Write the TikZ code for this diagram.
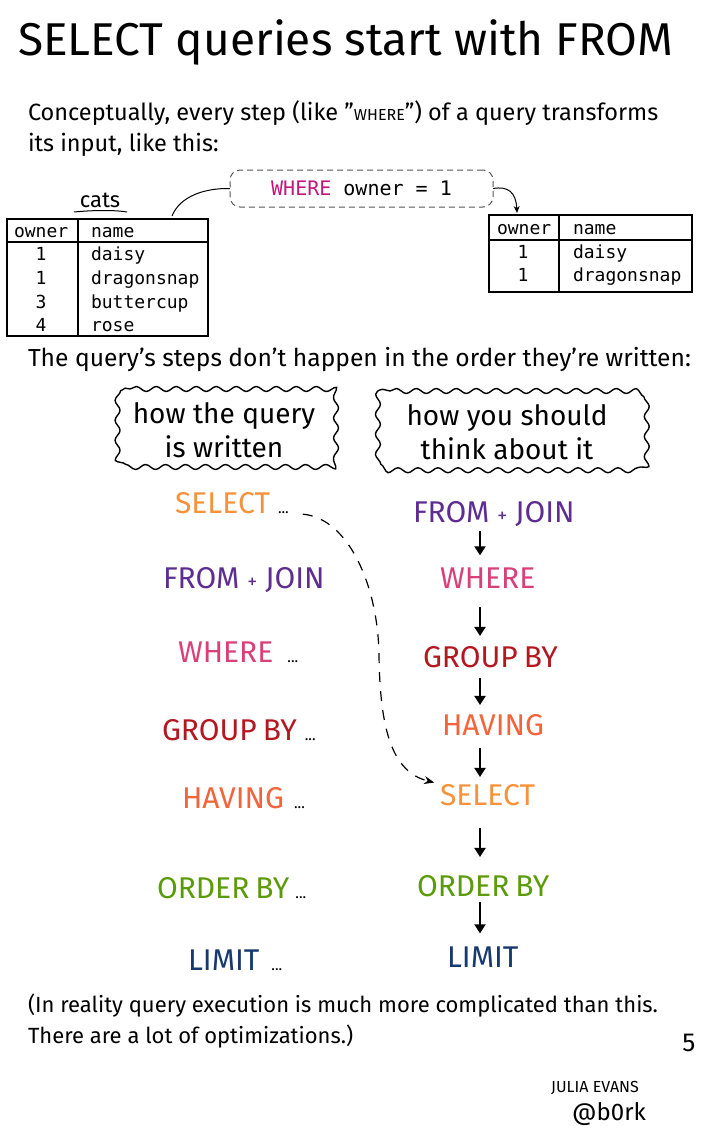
\documentclass[tikz,border=0pt]{standalone}
\usepackage{fontspec}
\setmainfont{Fira Sans}
\newfontfamily\monof{DejaVu Sans Mono}
\usetikzlibrary{arrows.meta,decorations.pathmorphing}
\definecolor{cSel}{HTML}{F7923A}
\definecolor{cFrom}{HTML}{5E2D91}
\definecolor{cWhere}{HTML}{D8407A}
\definecolor{cGroup}{HTML}{B3171F}
\definecolor{cHave}{HTML}{F2643A}
\definecolor{cOrder}{HTML}{5B9B0A}
\definecolor{cLimit}{HTML}{17396E}
\definecolor{cCode}{HTML}{C2187E}
\definecolor{cDash}{HTML}{555555}
\newcommand{\smalldots}{{\color{black}\fontsize{15}{15}\selectfont...}}
\newcommand{\sq}{\char"0022\relax}
% wavy outline of a speech cloud: x1,y1,x2,y2,corner
\newcommand{\cloudoutline}[5]{%
  \draw[cloudline] (#1+#5,#2) -- (#3-#5,#2) .. controls (#3,#2) .. (#3,#2+#5)
    -- (#3,#4-#5) .. controls (#3,#4) .. (#3-#5,#4)
    -- (#1+#5,#4) .. controls (#1,#4) .. (#1,#4-#5)
    -- (#1,#2+#5) .. controls (#1,#2) .. (#1+#5,#2);}
\begin{document}
\begin{tikzpicture}[x=1pt,y=-1pt,
  every node/.style={inner sep=0pt, outer sep=0pt},
  titletext/.style={anchor=base west, font=\fontsize{46}{50}\selectfont},
  body/.style={anchor=base west, font=\fontsize{#1}{26}\selectfont},
  body/.default=23,
  kw/.style={anchor=base west, font=\fontsize{30}{34}\selectfont},
  tabtxt/.style={anchor=base west, font=\monof\fontsize{18}{20}\selectfont},
  tabnum/.style={anchor=base, font=\monof\fontsize{18}{20}\selectfont},
  tabline/.style={line width=1.2pt},
  tabbox/.style={draw, line width=1.2pt, anchor=north west},
  cloudtext/.style={align=center, font=\fontsize{28}{34}\selectfont},
  cloudline/.style={line width=1.4pt, line join=round, decorate, decoration={snake, segment length=20pt, amplitude=2.5pt}},
  flow/.style={line width=2pt, -{Triangle[length=9pt,width=11pt]}},
  thin/.style={line width=1pt},
]
\useasboundingbox (0,0) rectangle (707,1132);

% title and intro
\node[titletext] (title) at (18,56) {SELECT queries start with FROM};
\node[body=23.5] (intro1) at (28,120) {Conceptually, every step (like \sq{\fontsize{16}{16}\selectfont WHERE}\sq) of a query transforms};
\node[body=23.5] (intro2) at (28,151) {its input, like this:};

% left table
\node[body=22, anchor=base] (cats) at (100,207) {cats};
\coordinate (catsl) at (74,212);
\coordinate (catsr) at (127,212);
\draw[thin] (catsl) .. controls (95,210) and (115,210) .. (catsr);
\node[tabbox, minimum width=201pt, minimum height=117pt] (ltab) at (7,219) {};
\coordinate (ltc1) at (78,219);
\coordinate (ltc2) at (78,336);
\coordinate (ltr1) at (7,242);
\coordinate (ltr2) at (208,242);
\draw[tabline] (ltc1) -- (ltc2);
\draw[tabline] (ltr1) -- (ltr2);
\node[tabtxt] (lh1) at (14,237) {owner};
\node[tabtxt] (lh2) at (91,237) {name};
\node[tabnum] (ln1) at (41,260) {1};
\node[tabtxt] (lv1) at (91,260) {daisy};
\node[tabnum] (ln2) at (41,284) {1};
\node[tabtxt] (lv2) at (91,284) {dragonsnap};
\node[tabnum] (ln3) at (41,308) {3};
\node[tabtxt] (lv3) at (91,308) {buttercup};
\node[tabnum] (ln4) at (41,331) {4};
\node[tabtxt] (lv4) at (91,331) {rose};

% WHERE box
\node[draw=cDash, dashed, dash pattern=on 6pt off 4pt, line width=1pt, rounded corners=10pt, minimum width=263pt, minimum height=37pt, font=\monof\fontsize{20}{22}\selectfont] (where) at (361.5,188.5) {\textcolor{cCode}{WHERE} owner = 1};
\coordinate (ltop) at (172,216);
\draw[thin] (ltop) .. controls (180,196) and (205,188) .. (where.west);

% right table
\node[tabbox, minimum width=203pt, minimum height=77pt] (rtab) at (489,215) {};
\coordinate (rtc1) at (559,215);
\coordinate (rtc2) at (559,292);
\coordinate (rtr1) at (489,240);
\coordinate (rtr2) at (692,240);
\draw[tabline] (rtc1) -- (rtc2);
\draw[tabline] (rtr1) -- (rtr2);
\node[tabtxt] (rh1) at (497,234) {owner};
\node[tabtxt] (rh2) at (573,234) {name};
\node[tabnum] (rn1) at (523,258) {1};
\node[tabtxt] (rv1) at (573,258) {daisy};
\node[tabnum] (rn2) at (523,281) {1};
\node[tabtxt] (rv2) at (573,281) {dragonsnap};
\coordinate (rtop) at (517,213);
\draw[thin, -{Stealth[length=7pt,width=6pt]}] (where.east) .. controls (508,186) and (516,192) .. (rtop);

% steps sentence
\node[body=24.6] (steps) at (28,366) {The query's steps don't happen in the order they're written:};

% clouds
\node[cloudtext] (cloudL) at (224,430) {how the query\\is written};
\cloudoutline{114}{389}{334}{469}{16}
\node[cloudtext] (cloudR) at (507,432) {how you should\\think about it};
\cloudoutline{374}{391}{640}{471}{16}

% left column
\node[kw, text=cSel] (l1) at (175,513) {SELECT\hspace{8pt}\smalldots};
\node[kw, text=cFrom] (l2) at (163,588) {FROM {\fontsize{20}{20}\selectfont +} JOIN};
\node[kw, text=cWhere] (l3) at (178,662) {WHERE\hspace{14pt}\smalldots};
\node[kw, text=cGroup] (l4) at (162,740) {GROUP\hspace{6pt}BY\hspace{8pt}\smalldots};
\node[kw, text=cHave] (l5) at (182,808) {HAVING\hspace{10pt}\smalldots};
\node[kw, text=cOrder] (l6) at (157,898) {ORDER\hspace{6pt}BY\hspace{6pt}\smalldots};
\node[kw, text=cLimit] (l7) at (188,970) {LIMIT\hspace{12pt}\smalldots};

% right column
\node[kw, text=cFrom] (r1) at (413,522) {FROM {\fontsize{20}{20}\selectfont +} JOIN};
\node[kw, text=cWhere] (r2) at (440,588) {WHERE};
\node[kw, text=cGroup] (r3) at (423,667) {GROUP\hspace{6pt}BY};
\node[kw, text=cHave] (r4) at (442,735) {HAVING};
\node[kw, text=cSel] (r5) at (440,805) {SELECT};
\node[kw, text=cOrder] (r6) at (417,896) {ORDER\hspace{6pt}BY};
\node[kw, text=cLimit] (r7) at (447,967) {LIMIT};

\coordinate (ax) at (480,0);
\draw[flow, shorten <=5pt, shorten >=12pt] (r1.south -| ax) -- (r2.north -| ax);
\draw[flow, shorten <=19pt, shorten >=10pt] (r2.south -| ax) -- (r3.north -| ax);
\draw[flow, shorten <=11pt, shorten >=9pt] (r3.south -| ax) -- (r4.north -| ax);
\draw[flow, shorten <=13pt, shorten >=7pt] (r4.south -| ax) -- (r5.north -| ax);
\draw[flow, shorten <=23pt, shorten >=18pt] (r5.south -| ax) -- (r6.north -| ax);
\draw[flow, shorten <=6pt, shorten >=13pt] (r6.south -| ax) -- (r7.north -| ax);

% dashed move of SELECT
\draw[line width=1.2pt, dash pattern=on 10pt off 9pt, -{Stealth[length=10pt,width=8pt]}, shorten <=14pt, shorten >=6pt]
  (l1.base east) .. controls (348,518) and (378,585) .. (379,655)
  .. controls (380,730) and (392,772) .. (r5.north west);

% bottom text
\node[body=22] (note1) at (28,1012) {(In reality query execution is much more complicated than this.};
\node[body=22] (note2) at (28,1043) {There are a lot of optimizations.)};
\node[font=\fontsize{26}{28}\selectfont] (page) at (689,1043) {5};
\node[font=\fontsize{16}{18}\selectfont] (author) at (595,1088) {JULIA EVANS};
\node[font=\fontsize{24}{26}\selectfont] (handle) at (609,1114) {@b0rk};
\end{tikzpicture}
\end{document}
